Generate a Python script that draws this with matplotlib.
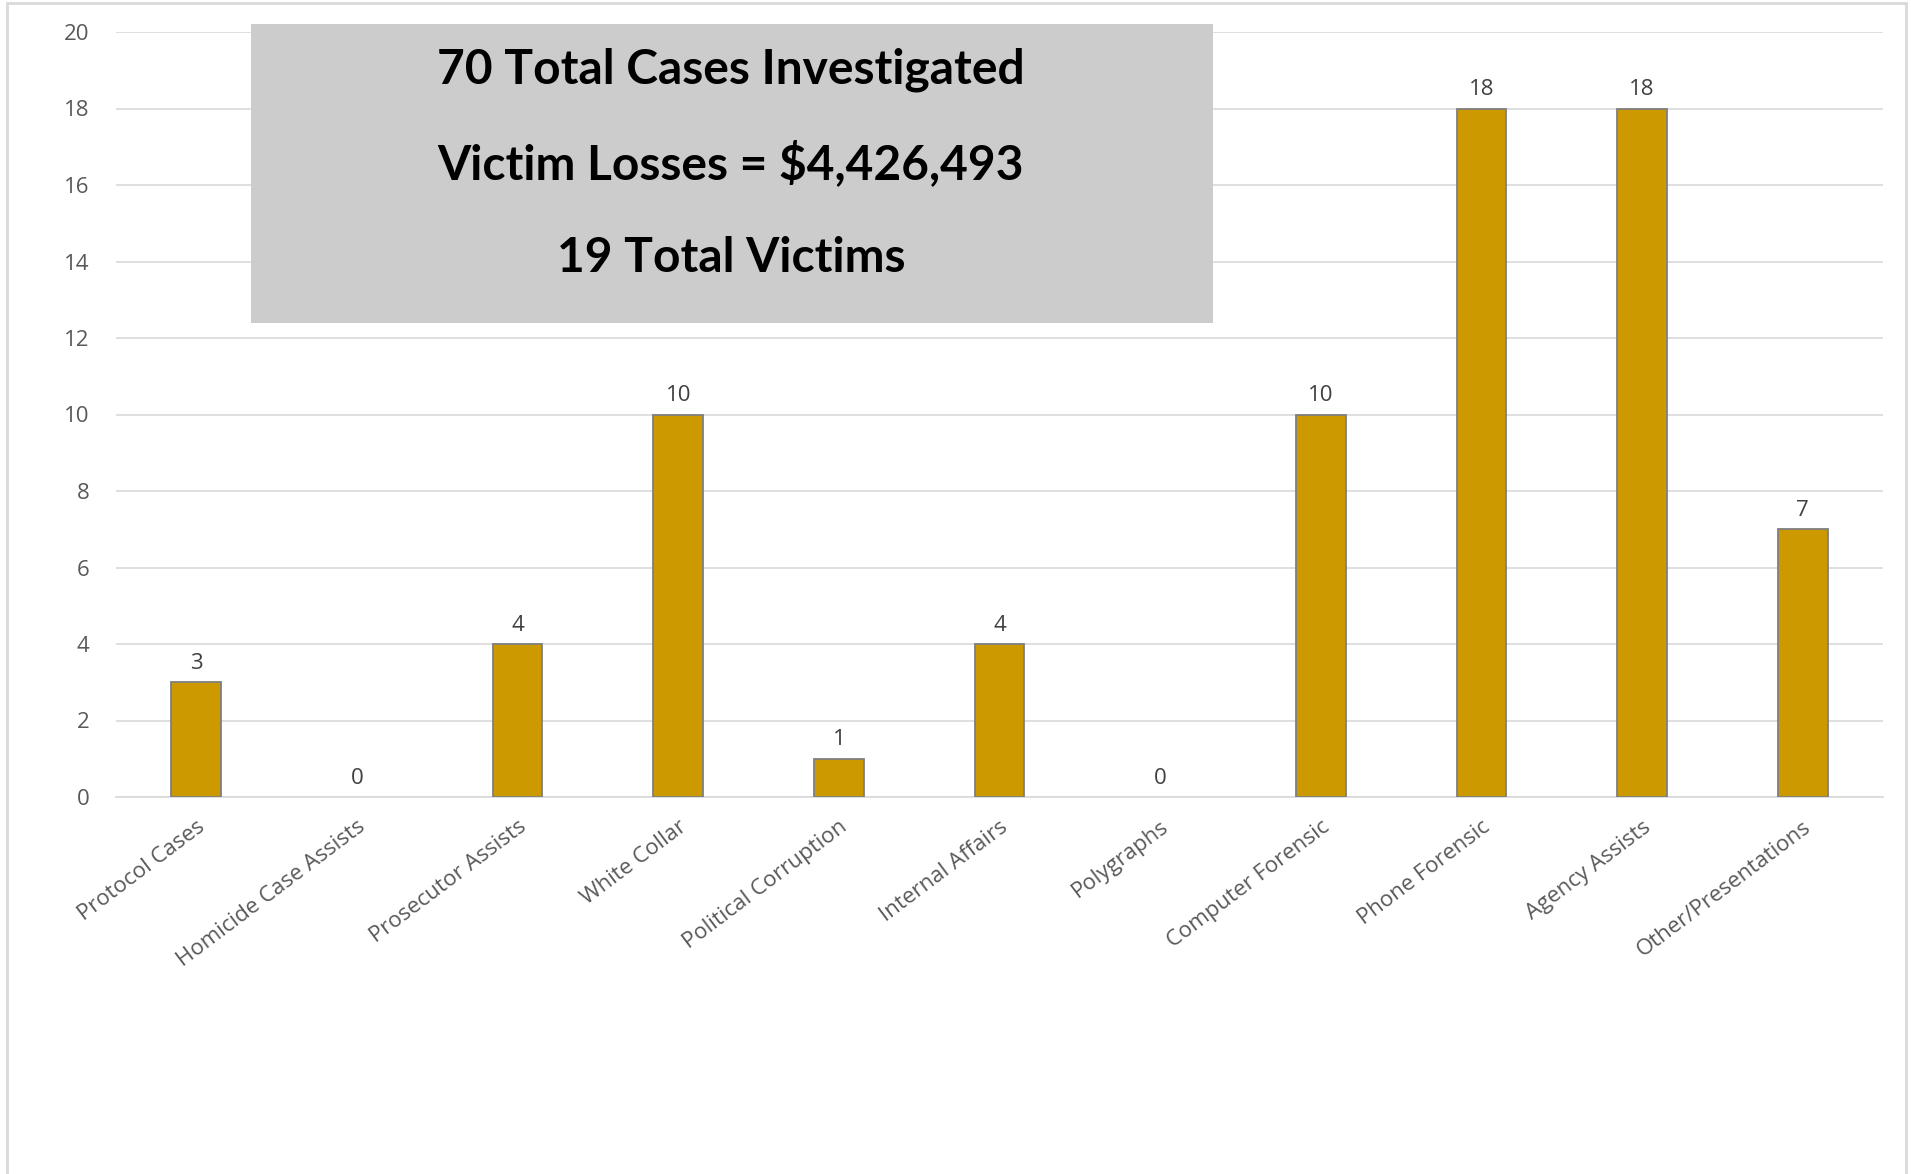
import matplotlib
matplotlib.use("Agg")
import matplotlib.pyplot as plt
from matplotlib.patches import Rectangle

categories = ["Protocol Cases", "Homicide Case Assists", "Prosecutor Assists", "White Collar",
              "Political Corruption", "Internal Affairs", "Polygraphs", "Computer Forensic",
              "Phone Forensic", "Agency Assists", "Other/Presentations"]
values = [3, 0, 4, 10, 1, 4, 0, 10, 18, 18, 7]
yticks = [0, 2, 4, 6, 8, 10, 12, 14, 16, 18, 20]
box_lines = ["70 Total Cases Investigated", "Victim Losses = $4,426,493", "19 Total Victims"]

W, H = 1911, 1174
fig = plt.figure(figsize=(W / 100, H / 100), dpi=100)
fig.patch.set_facecolor("white")

# outer chart border
fig.patches.append(Rectangle((7 / W, -0.01), (1906 - 7) / W, 1 - 3 / H + 0.01,
                             transform=fig.transFigure, fill=False,
                             edgecolor="#D9D9D9", linewidth=2.0))

ax = fig.add_axes([116 / W, 1 - 797 / H, (1883 - 116) / W, (797 - 32) / H])
x = list(range(len(categories)))
edges = ["#7F7F7F" if v > 0 else "none" for v in values]
bars = ax.bar(x, values, width=0.31, color="#CC9900", edgecolor=edges,
              linewidth=1.3, zorder=3)
ax.set_xlim(-0.5, len(categories) - 0.5)
ax.set_ylim(0, 20)
ax.set_yticks(yticks)
ax.yaxis.grid(True, color="#D9D9D9", linewidth=1.2, zorder=0)
ax.set_axisbelow(True)
for s in ["top", "right", "left"]:
    ax.spines[s].set_visible(False)
ax.spines["bottom"].set_color("#D9D9D9")
ax.spines["bottom"].set_linewidth(1.2)
ax.tick_params(axis="both", length=0, colors="#595959", labelsize=16)
ax.tick_params(axis="y", pad=19)
for lbl in ax.get_yticklabels():
    lbl.set_fontfamily("Open Sans")

ax.set_xticks(x)
ax.set_xticklabels(categories, rotation=37, ha="right", rotation_mode="anchor",
                   fontsize=16, color="#595959", family="Open Sans")
ax.tick_params(axis="x", pad=14)

for xi, v in zip(x, values):
    ax.annotate(str(v), (xi, v), xytext=(0, 6), textcoords="offset points",
                ha="center", va="bottom", fontsize=16, color="#404040",
                family="Open Sans")

# summary box
fig.patches.append(Rectangle((251 / W, 1 - 323 / H), (1213 - 251) / W, (323 - 24) / H,
                             transform=fig.transFigure, facecolor="#CCCCCC",
                             edgecolor="none", zorder=5))
for line, yy in zip(box_lines, [70, 164, 258]):
    fig.text(731 / W, 1 - yy / H, line, ha="center", va="center", fontsize=34.5,
             fontweight="bold", family="Lato", color="black", zorder=6)

fig.savefig("out.png", dpi=100)
